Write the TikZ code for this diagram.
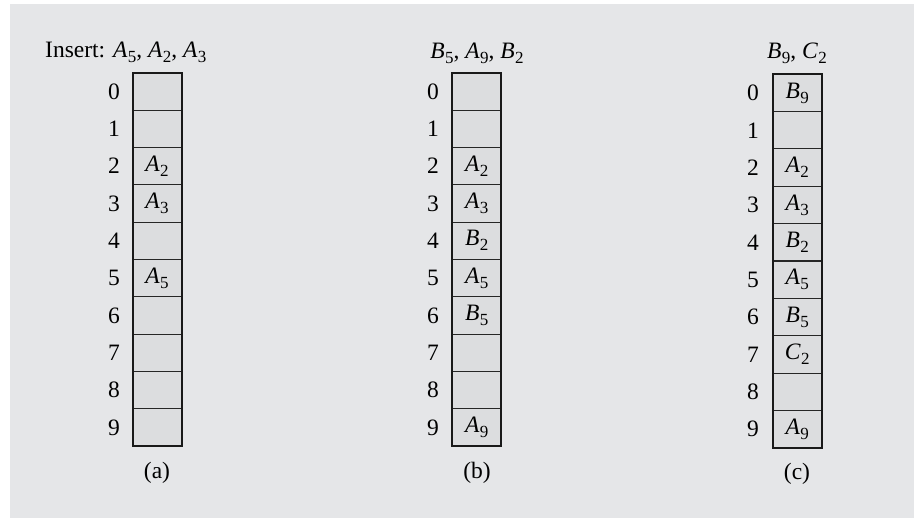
\documentclass[tikz,border=0pt]{standalone}
\usepackage{fontspec}
\setmainfont{Liberation Serif}
\definecolor{panel}{RGB}{229,230,232}
\definecolor{cellc}{RGB}{220,221,223}
\newcommand\ent[2]{\textit{#1}\kern0.3pt\raisebox{-5pt}{\fontsize{17}{17}\selectfont #2}}
\begin{document}
\begin{tikzpicture}[x=1pt,y=-1pt,font=\fontsize{23.5}{28}\selectfont,
  cellbox/.style={draw=black!85,line width=1pt,fill=cellc,minimum width=49pt,minimum height=37.33pt,inner sep=0pt,outer sep=0pt,anchor=north west},
  idx/.style={inner sep=0pt},
  frame/.style={draw=black!90,line width=2pt}]
\useasboundingbox (0,0) rectangle (914,519);
\fill[panel] (10,4) rectangle (914,518);
% table (a)
\foreach \i/\t in {0/{},1/{},2/{\ent{A}{2}},3/{\ent{A}{3}},4/{},5/{\ent{A}{5}},6/{},7/{},8/{},9/{}}{
  \node[cellbox] (a\i) at (132.5,72.7+\i*37.33) {\t};
  \node[idx] (la\i) at ([xshift=-18.5pt]a\i.west) {\i};
}
\draw[frame] (a0.north west) rectangle (a9.south east);
% table (b)
\foreach \i/\t in {0/{},1/{},2/{\ent{A}{2}},3/{\ent{A}{3}},4/{\ent{B}{2}},5/{\ent{A}{5}},6/{\ent{B}{5}},7/{},8/{},9/{\ent{A}{9}}}{
  \node[cellbox] (b\i) at (452.3,72.7+\i*37.33) {\t};
  \node[idx] (lb\i) at ([xshift=-19.3pt]b\i.west) {\i};
}
\draw[frame] (b0.north west) rectangle (b9.south east);
% table (c)
\foreach \i/\t in {0/{\ent{B}{9}},1/{},2/{\ent{A}{2}},3/{\ent{A}{3}},4/{\ent{B}{2}},5/{\ent{A}{5}},6/{\ent{B}{5}},7/{\ent{C}{2}},8/{},9/{\ent{A}{9}}}{
  \node[cellbox] (c\i) at (772.7,74.3+\i*37.34) {\t};
  \node[idx] (lc\i) at ([xshift=-19.7pt]c\i.west) {\i};
}
\draw[frame] (c0.north west) rectangle (c9.south east);
% titles
\node[anchor=base west,inner sep=0pt] (ta) at (45,58) {Insert: \ent{A}{5}, \ent{A}{2}, \ent{A}{3}};
\node[anchor=base,inner sep=0pt] (tb) at (477,59) {\ent{B}{5}, \ent{A}{9}, \ent{B}{2}};
\node[anchor=base,inner sep=0pt] (tc) at (797,59) {\ent{B}{9}, \ent{C}{2}};
% captions
\node[inner sep=0pt] (capa) at (157,473) {(a)};
\node[inner sep=0pt] (capb) at (477,473) {(b)};
\node[inner sep=0pt] (capc) at (797,474) {(c)};
\end{tikzpicture}
\end{document}
